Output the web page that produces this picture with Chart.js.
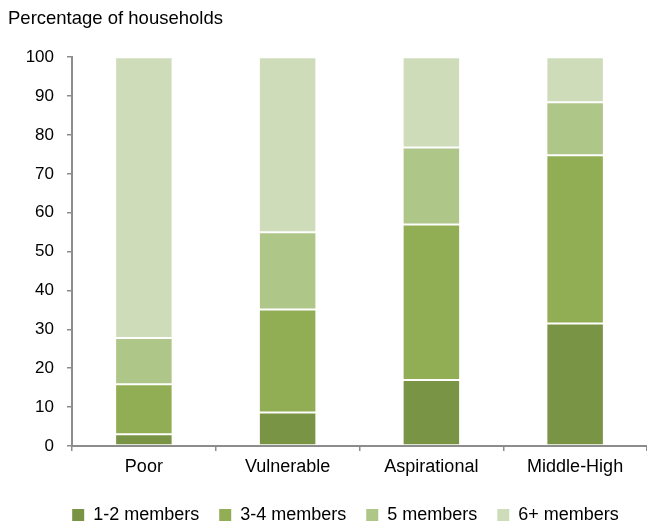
<!DOCTYPE html>
<html lang="en">
<head>
    <meta charset="UTF-8">
    <title>Household size by class</title>
    <script src="https://cdn.jsdelivr.net/npm/chart.js"></script>
    <style>
        html, body {
            margin: 0;
            padding: 0;
            background: #ffffff;
            overflow: hidden;
        }
        .chart-box {
            position: relative;
            width: 647px;
            height: 522px;
        }
    </style>
</head>
<body>
    <div class="chart-box">
        <canvas id="householdChart"></canvas>
    </div>

    <script>
        // values (percent of households)
        const classes = ['Poor', 'Vulnerable', 'Aspirational', 'Middle-High'];
        const sizeLabels = ['1-2 members', '3-4 members', '5 members', '6+ members'];
        const members12 = [3.0, 8.6, 17.0, 31.5];
        const members34 = [12.9, 26.5, 40.0, 43.3];
        const members5 = [11.9, 19.9, 19.8, 13.6];
        const members6 = [72.2, 45.0, 23.2, 11.6];
        const yTicks = [0, 10, 20, 30, 40, 50, 60, 70, 80, 90, 100];

        const colours = ['#7a9445', '#92ae55', '#aec687', '#cfdcba'];
        const seriesValues = [members12, members34, members5, members6];

        const axisGrey = '#8c8c8c';

        Chart.defaults.font.family = 'Arial, "Liberation Sans", sans-serif';
        Chart.defaults.font.size = 18;
        Chart.defaults.color = '#000000';

        // the legend in the original sits a bit right of the canvas centre
        const legendShift = {
            id: 'legendShift',
            afterLayout(chart) {
                chart.legend.left += 18;
                chart.legend.right += 18;
            }
        };

        const ctx = document.getElementById('householdChart').getContext('2d');
        new Chart(ctx, {
            type: 'bar',
            data: {
                labels: classes,
                datasets: seriesValues.map((vals, i) => ({
                    label: sizeLabels[i],
                    data: vals,
                    backgroundColor: colours[i],
                    borderColor: 'rgba(255,255,255,0.3)',
                    borderWidth: 1,
                    borderSkipped: false,
                    barPercentage: 0.4,
                    categoryPercentage: 1.0
                }))
            },
            options: {
                responsive: true,
                maintainAspectRatio: false,
                animation: false,
                layout: {
                    padding: { left: 8, right: 0, top: 0, bottom: -12 }
                },
                scales: {
                    x: {
                        stacked: true,
                        afterFit: (axis) => { axis.height = 40; },
                        grid: {
                            display: true,
                            drawOnChartArea: false,
                            drawTicks: true,
                            tickLength: 5,
                            color: axisGrey,
                            lineWidth: 1.5,
                            offset: true
                        },
                        border: { color: axisGrey, width: 2 },
                        ticks: {
                            color: '#000000',
                            padding: 5,
                            font: { size: 18 }
                        }
                    },
                    y: {
                        stacked: true,
                        min: 0,
                        max: 100,
                        afterFit: (axis) => { axis.width = 64; },
                        afterBuildTicks: (axis) => {
                            axis.ticks = yTicks.map(v => ({ value: v }));
                        },
                        grid: {
                            display: true,
                            drawOnChartArea: false,
                            drawTicks: true,
                            tickLength: 5,
                            color: axisGrey,
                            lineWidth: 1.5
                        },
                        border: { color: axisGrey, width: 2 },
                        ticks: {
                            color: '#000000',
                            padding: 13,
                            font: { size: 17 }
                        }
                    }
                },
                plugins: {
                    title: {
                        display: true,
                        text: 'Percentage of households',
                        align: 'start',
                        color: '#000000',
                        font: { size: 18.5, weight: 'normal' },
                        padding: { top: 8, bottom: 27 }
                    },
                    legend: {
                        position: 'bottom',
                        labels: {
                            boxWidth: 12,
                            boxHeight: 12,
                            padding: 20,
                            color: '#000000',
                            font: { size: 18 },
                            generateLabels: (chart) => {
                                const items = Chart.defaults.plugins.legend.labels.generateLabels(chart);
                                items.forEach(item => {
                                    item.lineWidth = 0;
                                    item.strokeStyle = item.fillStyle;
                                });
                                return items;
                            }
                        }
                    },
                    tooltip: { enabled: false }
                }
            },
            plugins: [legendShift]
        });
    </script>
</body>
</html>
